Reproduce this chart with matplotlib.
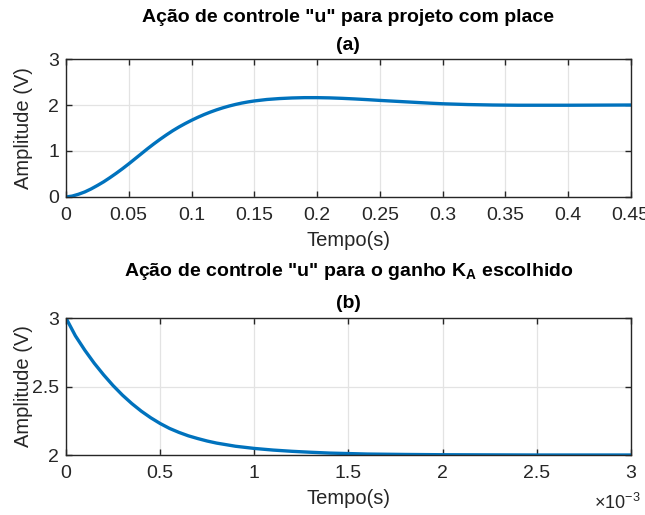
import numpy as np
import matplotlib
matplotlib.use('Agg')
import matplotlib.pyplot as plt

plt.rcParams['font.family'] = ['Liberation Sans', 'DejaVu Sans']
plt.rcParams['mathtext.fontset'] = 'custom'
plt.rcParams['mathtext.rm'] = 'Liberation Sans'
plt.rcParams['mathtext.bf'] = 'Liberation Sans:bold'

# (a) control action with place design
t_a = [0.0, 0.005, 0.01, 0.015, 0.02, 0.025, 0.03, 0.035, 0.04, 0.045, 0.05, 0.055, 0.06, 0.065,
       0.07, 0.075, 0.08, 0.085, 0.09, 0.095, 0.1, 0.105, 0.11, 0.115, 0.12, 0.125, 0.13, 0.135,
       0.14, 0.145, 0.15, 0.16, 0.17, 0.18, 0.19, 0.2, 0.21, 0.22, 0.23, 0.24, 0.25, 0.26, 0.27,
       0.28, 0.29, 0.3, 0.32, 0.34, 0.36, 0.38, 0.4, 0.42, 0.45]
u_a = [0.0, 0.02, 0.06, 0.11, 0.175, 0.25, 0.33, 0.42, 0.515, 0.615, 0.72, 0.83, 0.94, 1.05,
       1.155, 1.255, 1.35, 1.44, 1.522, 1.597, 1.667, 1.732, 1.792, 1.846, 1.895, 1.939, 1.978, 2.012,
       2.042, 2.067, 2.088, 2.12, 2.14, 2.153, 2.16, 2.16, 2.155, 2.145, 2.132, 2.117, 2.1, 2.085, 2.07,
       2.055, 2.04, 2.027, 2.01, 2.0, 1.995, 1.995, 1.995, 1.997, 2.0]

# (b) control action for chosen gain K_A (time in ms)
t_b = [0.0, 0.05, 0.1, 0.15, 0.2, 0.25, 0.3, 0.35, 0.4, 0.45, 0.5, 0.55, 0.6, 0.65, 0.7, 0.75,
       0.8, 0.9, 1.0, 1.1, 1.2, 1.3, 1.4, 1.6, 1.8, 2.0, 2.5, 3.0]
u_b = [3.0, 2.87, 2.765, 2.67, 2.585, 2.507, 2.437, 2.375, 2.32, 2.272, 2.23, 2.194, 2.165, 2.14,
       2.12, 2.102, 2.087, 2.064, 2.048, 2.036, 2.027, 2.02, 2.014, 2.007, 2.004, 2.002, 2.0, 2.0]

blue = '#0072BD'
dark = '#262626'

fig = plt.figure(figsize=(6.45, 5.15), dpi=100)
ax1 = fig.add_axes([0.1023, 0.6175, 0.8757, 0.2679])
ax2 = fig.add_axes([0.1023, 0.1165, 0.8757, 0.2660])


def style(ax):
    ax.grid(True, color='#e3e3e3', linewidth=0.9)
    ax.set_axisbelow(True)
    for s in ax.spines.values():
        s.set_color(dark)
        s.set_linewidth(1.0)
    ax.tick_params(direction='in', length=4.5, width=1.0, colors=dark, labelsize=14,
                   top=True, right=True, pad=5)
    ax.tick_params(axis='x', pad=7)
    for lab in ax.get_xticklabels() + ax.get_yticklabels():
        lab.set_color(dark)


ax1.plot(t_a, u_a, color=blue, linewidth=2.4, solid_joinstyle='round')
ax1.set_xlim(0, 0.45)
ax1.set_ylim(0, 3)
ax1.set_xticks([0, 0.05, 0.1, 0.15, 0.2, 0.25, 0.3, 0.35, 0.4, 0.45])
ax1.set_xticklabels(['0', '0.05', '0.1', '0.15', '0.2', '0.25', '0.3', '0.35', '0.4', '0.45'])
ax1.set_yticks([0, 1, 2, 3])
style(ax1)
ax1.set_xlabel('Tempo(s)', fontsize=14.5, color=dark, labelpad=5)
ax1.set_ylabel('Amplitude (V)', fontsize=14.5, color=dark)
ax1.yaxis.set_label_coords(-0.058, 0.5)

ax2.plot(t_b, u_b, color=blue, linewidth=2.4, solid_joinstyle='round')
ax2.set_xlim(0, 3)
ax2.set_ylim(2, 3)
ax2.set_xticks([0, 0.5, 1, 1.5, 2, 2.5, 3])
ax2.set_xticklabels(['0', '0.5', '1', '1.5', '2', '2.5', '3'])
ax2.set_yticks([2, 2.5, 3])
ax2.set_yticklabels(['2', '2.5', '3'])
style(ax2)
ax2.set_xlabel('Tempo(s)', fontsize=14.5, color=dark, labelpad=5)
ax2.set_ylabel('Amplitude (V)', fontsize=14.5, color=dark)
ax2.yaxis.set_label_coords(-0.058, 0.5)
fig.text(0.993, 0.003, r'$\times10^{-3}$', ha='right', va='bottom', fontsize=13, color=dark)

fig.text(0.540, 1 - 18 / 515, 'Ação de controle "u" para projeto com place',
         ha='center', va='center', fontsize=14, fontweight='bold')
fig.text(0.540, 1 - 45 / 515, '(a)', ha='center', va='center', fontsize=14, fontweight='bold')
fig.text(0.540, 1 - 271 / 515, r'Ação de controle "u" para o ganho $\mathbf{K_A}$ escolhido',
         ha='center', va='center', fontsize=14, fontweight='bold')
fig.text(0.540, 1 - 304 / 515, '(b)', ha='center', va='center', fontsize=14, fontweight='bold')

fig.savefig('out.png', dpi=100)
